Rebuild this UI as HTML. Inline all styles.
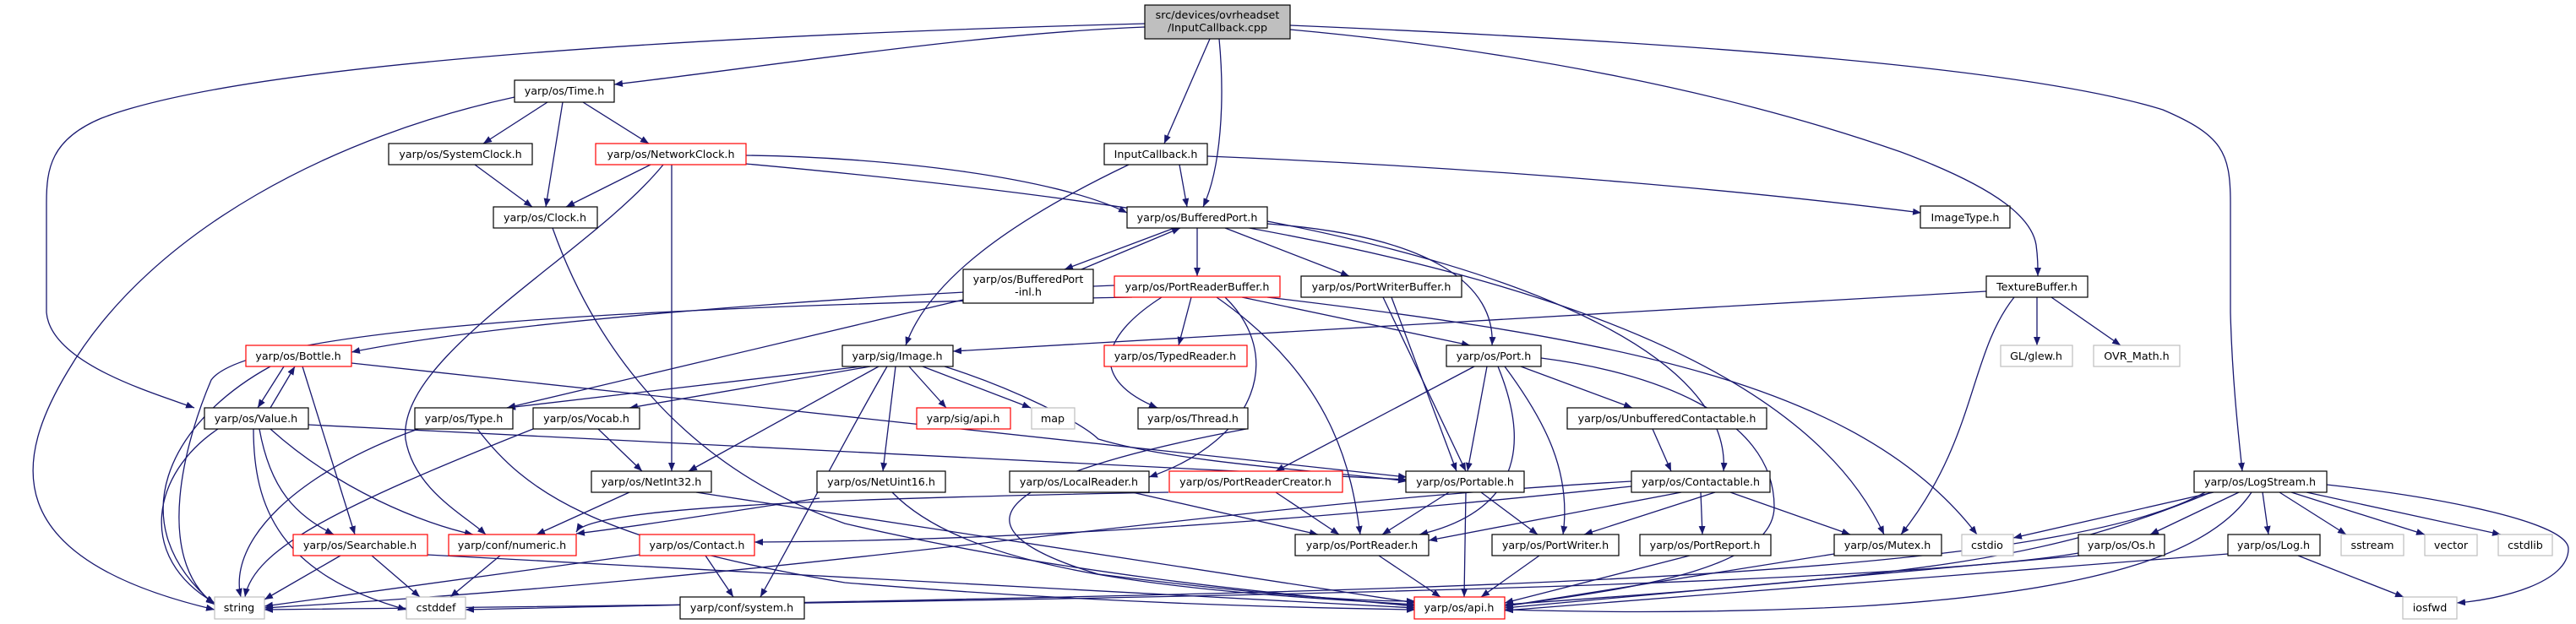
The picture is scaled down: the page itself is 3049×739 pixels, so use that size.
<!DOCTYPE html>
<html><head><meta charset="utf-8"><style>
html,body{margin:0;padding:0;background:#fff;width:3049px;height:739px;overflow:hidden}
svg text{font-family:"DejaVu Sans","Liberation Sans",sans-serif;font-size:12.7px;fill:#000;text-anchor:middle}
.e{fill:none;stroke:#191970;stroke-width:1.3;marker-end:url(#a)}
.n{fill:#fff;stroke:#000;stroke-width:1.2}
.r{fill:#fff;stroke:#ff0000;stroke-width:1.2}
.g{fill:#fff;stroke:#bfbfbf;stroke-width:1.2}
</style></head><body>
<svg width="3049" height="739" viewBox="0 0 3049 739" xmlns="http://www.w3.org/2000/svg">
<defs><marker id="a" viewBox="0 0 10 8" refX="10" refY="4" markerWidth="10" markerHeight="8" markerUnits="userSpaceOnUse" orient="auto"><path d="M0,0 L10,4 L0,8 z" fill="#191970"/></marker></defs>
<g>
<!-- main -->
<path class="e" d="M1355,32 C1150,40 900,80 727,100"/>
<path class="e" d="M1355,28 C900,40 300,70 120,140 C60,165 55,200 55,240 L55,370 C60,430 180,465 230,483"/>
<path class="e" d="M1432,46 L1378,170"/>
<path class="e" d="M1443,46 C1450,120 1445,200 1424,245"/>
<path class="e" d="M1527,35 C1800,60 2050,110 2250,180 C2370,225 2405,260 2410,290 C2412,305 2412,315 2412,327"/>
<path class="e" d="M1527,30 C2000,50 2400,80 2560,130 C2630,160 2640,180 2640,240 L2640,370 C2642,450 2650,520 2654,558"/>
<!-- Time.h -->
<path class="e" d="M609,115 C400,160 180,270 80,440 C20,540 -10,660 254,722"/>
<path class="e" d="M648,121 L572,170"/>
<path class="e" d="M666,121 L646,245"/>
<path class="e" d="M690,121 L768,170"/>
<path class="e" d="M562,195 L630,245"/>
<!-- NetworkClock -->
<path class="e" d="M770,195 L670,245"/>
<path class="e" d="M883,184 C1050,186 1250,210 1334,252"/>
<path class="e" d="M883,194 C1500,250 2100,350 2230,633"/>
<path class="e" d="M795,195 L795,558"/>
<path class="e" d="M785,195 C700,300 470,420 480,520 C490,580 550,610 575,633"/>
<path class="e" d="M654,270 C700,400 800,550 1000,620 C1300,690 1600,710 1675,718"/>
<!-- InputCallback -->
<path class="e" d="M1396,195 L1405,245"/>
<path class="e" d="M1336,195 C1200,260 1100,330 1072,409"/>
<path class="e" d="M1429,185 C1800,200 2100,230 2274,252"/>
<!-- BufferedPort -->
<path class="e" d="M1390,270 L1260,319"/>
<path class="e" d="M1280,319 L1397,270"/>
<path class="e" d="M1417,270 L1417,327"/>
<path class="e" d="M1450,270 L1597,327"/>
<path class="e" d="M1500,265 C1700,280 1770,340 1766,409"/>
<path class="e" d="M1500,262 C1800,320 2050,420 2040,558"/>
<path class="e" d="M1140,355 L600,483"/>
<!-- PortReaderBuffer -->
<path class="e" d="M1319,338 C1000,350 600,380 416,417"/>
<path class="e" d="M1340,352 C900,360 300,380 250,450 C220,520 180,660 254,716"/>
<path class="e" d="M1410,352 L1395,409"/>
<path class="e" d="M1375,352 C1300,400 1290,450 1370,483"/>
<path class="e" d="M1450,352 C1520,420 1490,520 1360,565"/>
<path class="e" d="M1440,352 C1580,450 1600,560 1610,633"/>
<path class="e" d="M1470,352 L1740,409"/>
<path class="e" d="M1500,352 C1900,400 2200,450 2340,633"/>
<path class="e" d="M1647,352 L1724,558"/>
<path class="e" d="M1637,352 L1735,558"/>
<!-- TextureBuffer -->
<path class="e" d="M2351,345 L1128,416"/>
<path class="e" d="M2411,352 L2411,409"/>
<path class="e" d="M2428,352 L2510,409"/>
<path class="e" d="M2384,352 C2330,420 2340,520 2250,633"/>
<!-- Image.h -->
<path class="e" d="M1020,434 L600,483"/>
<path class="e" d="M1030,434 L745,483"/>
<path class="e" d="M1040,434 L815,558"/>
<path class="e" d="M1076,434 L1120,483"/>
<path class="e" d="M1092,434 L1220,483"/>
<path class="e" d="M1060,434 L1045,558"/>
<path class="e" d="M1118,434 C1200,460 1280,500 1300,520 C1400,550 1600,560 1665,570"/>
<path class="e" d="M1050,434 C1000,520 960,600 900,707"/>
<!-- Port.h -->
<path class="e" d="M1745,434 L1510,558"/>
<path class="e" d="M1760,434 L1737,558"/>
<path class="e" d="M1773,434 C1800,500 1820,600 1680,633"/>
<path class="e" d="M1781,434 C1830,500 1860,560 1850,633"/>
<path class="e" d="M1800,434 L1932,483"/>
<path class="e" d="M1824,424 C1950,440 2100,490 2100,600 C2100,680 1900,700 1781,718"/>
<!-- Bottle / Value -->
<path class="e" d="M336,434 L305,483"/>
<path class="e" d="M320,483 L349,434"/>
<path class="e" d="M358,434 L420,633"/>
<path class="e" d="M320,434 C200,500 140,620 254,716"/>
<path class="e" d="M416,430 L1665,565"/>
<path class="e" d="M258,508 C180,560 160,660 254,714"/>
<path class="e" d="M300,508 C300,600 330,680 481,722"/>
<path class="e" d="M307,508 C320,580 350,610 395,633"/>
<path class="e" d="M320,508 C400,580 500,620 560,633"/>
<path class="e" d="M365,503 L1665,568"/>
<!-- Type / Vocab -->
<path class="e" d="M495,508 C350,560 270,640 285,707"/>
<path class="e" d="M565,508 C620,580 700,640 1000,690 C1300,715 1550,720 1675,722"/>
<path class="e" d="M631,508 C400,600 300,650 290,707"/>
<path class="e" d="M708,508 L760,558"/>
<!-- NetInt32 / NetUint16 -->
<path class="e" d="M745,583 L635,633"/>
<path class="e" d="M824,583 L1675,714"/>
<path class="e" d="M970,590 C900,600 780,620 682,632"/>
<path class="e" d="M1056,583 C1150,680 1400,700 1675,716"/>
<!-- Searchable numeric Contact -->
<path class="e" d="M403,658 L313,710"/>
<path class="e" d="M440,658 L497,707"/>
<path class="e" d="M506,657 L1675,720"/>
<path class="e" d="M592,658 L533,707"/>
<path class="e" d="M757,657 L313,718"/>
<path class="e" d="M835,658 L868,707"/>
<!-- Lower middle -->
<path class="e" d="M1340,583 L1560,633"/>
<path class="e" d="M1510,583 L1585,633"/>
<path class="e" d="M1383,583 C1000,590 700,600 682,630"/>
<path class="e" d="M1715,583 L1636,633"/>
<path class="e" d="M1735,583 L1733,707"/>
<path class="e" d="M1753,583 L1820,633"/>
<path class="e" d="M1632,658 L1705,707"/>
<path class="e" d="M1822,658 L1753,707"/>
<path class="e" d="M1475,508 C1200,560 1100,620 1300,680 C1500,705 1600,712 1675,712"/>
<path class="e" d="M1956,508 L1978,558"/>
<path class="e" d="M1931,576 C1700,600 1300,640 893,642"/>
<path class="e" d="M1990,583 L1691,640"/>
<path class="e" d="M2030,583 L1875,633"/>
<path class="e" d="M2013,583 L2015,633"/>
<path class="e" d="M2048,583 L2190,633"/>
<path class="e" d="M1931,570 C1400,600 1000,680 313,720"/>
<path class="e" d="M2000,658 L1781,714"/>
<path class="e" d="M2171,656 L1781,718"/>
<!-- LogStream -->
<path class="e" d="M2620,583 L2383,637"/>
<path class="e" d="M2650,583 L2545,633"/>
<path class="e" d="M2678,583 L2685,633"/>
<path class="e" d="M2698,583 L2777,633"/>
<path class="e" d="M2712,583 L2870,633"/>
<path class="e" d="M2730,583 L2960,633"/>
<path class="e" d="M2754,574 C2900,590 3040,620 3040,650 C3040,690 2960,710 2908,714"/>
<path class="e" d="M2665,583 C2620,650 2500,700 2200,718 C2000,728 1850,724 1781,722"/>
<path class="e" d="M2617,583 C2430,660 2300,680 1781,716"/>
<path class="e" d="M2610,583 C2400,700 1500,700 551,722"/>
<path class="e" d="M2460,655 C2200,700 1000,715 313,722"/>
<path class="e" d="M2462,658 L1781,720"/>
<path class="e" d="M2637,656 L1781,723"/>
<path class="e" d="M2720,658 L2845,707"/>
</g>
<!-- nodes -->
<rect x="1355" y="6" width="172" height="40" fill="#bfbfbf" stroke="#000" stroke-width="1.2"/>
<text x="1441" y="22">src/devices/ovrheadset</text><text x="1441" y="37">/InputCallback.cpp</text>
<rect class="n" x="609" y="95" width="118" height="26"/><text x="668" y="112">yarp/os/Time.h</text>
<rect class="n" x="460" y="170" width="170" height="25"/><text x="545" y="187">yarp/os/SystemClock.h</text>
<rect class="r" x="705" y="170" width="178" height="25"/><text x="794" y="187">yarp/os/NetworkClock.h</text>
<rect class="n" x="584" y="245" width="123" height="25"/><text x="645" y="262">yarp/os/Clock.h</text>
<rect class="n" x="1307" y="170" width="122" height="25"/><text x="1368" y="187">InputCallback.h</text>
<rect class="n" x="2273" y="244" width="106" height="26"/><text x="2326" y="262">ImageType.h</text>
<rect class="n" x="1334" y="245" width="166" height="25"/><text x="1417" y="262">yarp/os/BufferedPort.h</text>
<rect class="n" x="1140" y="319" width="154" height="40"/><text x="1217" y="335">yarp/os/BufferedPort</text><text x="1217" y="350">-inl.h</text>
<rect class="r" x="1319" y="327" width="196" height="25"/><text x="1417" y="344">yarp/os/PortReaderBuffer.h</text>
<rect class="n" x="1540" y="327" width="190" height="25"/><text x="1635" y="344">yarp/os/PortWriterBuffer.h</text>
<rect class="n" x="2351" y="327" width="120" height="25"/><text x="2411" y="344">TextureBuffer.h</text>
<rect class="r" x="291" y="409" width="125" height="25"/><text x="353" y="426">yarp/os/Bottle.h</text>
<rect class="n" x="997" y="409" width="131" height="25"/><text x="1062" y="426">yarp/sig/Image.h</text>
<rect class="r" x="1307" y="409" width="169" height="25"/><text x="1391" y="426">yarp/os/TypedReader.h</text>
<rect class="n" x="1712" y="409" width="112" height="25"/><text x="1768" y="426">yarp/os/Port.h</text>
<rect class="g" x="2368" y="409" width="85" height="25"/><text x="2410" y="426">GL/glew.h</text>
<rect class="g" x="2478" y="409" width="102" height="25"/><text x="2529" y="426">OVR_Math.h</text>
<rect class="n" x="242" y="483" width="123" height="25"/><text x="303" y="500">yarp/os/Value.h</text>
<rect class="n" x="491" y="483" width="116" height="25"/><text x="549" y="500">yarp/os/Type.h</text>
<rect class="n" x="631" y="483" width="126" height="25"/><text x="694" y="500">yarp/os/Vocab.h</text>
<rect class="r" x="1085" y="483" width="111" height="25"/><text x="1140" y="500">yarp/sig/api.h</text>
<rect class="g" x="1221" y="483" width="51" height="25"/><text x="1246" y="500">map</text>
<rect class="n" x="1347" y="483" width="130" height="25"/><text x="1412" y="500">yarp/os/Thread.h</text>
<rect class="n" x="1855" y="483" width="236" height="25"/><text x="1973" y="500">yarp/os/UnbufferedContactable.h</text>
<rect class="n" x="700" y="558" width="142" height="25"/><text x="771" y="575">yarp/os/NetInt32.h</text>
<rect class="n" x="967" y="558" width="152" height="25"/><text x="1043" y="575">yarp/os/NetUint16.h</text>
<rect class="n" x="1195" y="558" width="165" height="25"/><text x="1277" y="575">yarp/os/LocalReader.h</text>
<rect class="r" x="1384" y="558" width="205" height="25"/><text x="1486" y="575">yarp/os/PortReaderCreator.h</text>
<rect class="n" x="1664" y="558" width="140" height="25"/><text x="1734" y="575">yarp/os/Portable.h</text>
<rect class="n" x="1931" y="558" width="164" height="25"/><text x="2013" y="575">yarp/os/Contactable.h</text>
<rect class="n" x="2597" y="558" width="157" height="25"/><text x="2675" y="575">yarp/os/LogStream.h</text>
<rect class="r" x="347" y="633" width="159" height="25"/><text x="426" y="650">yarp/os/Searchable.h</text>
<rect class="r" x="531" y="633" width="151" height="25"/><text x="606" y="650">yarp/conf/numeric.h</text>
<rect class="r" x="757" y="633" width="136" height="25"/><text x="825" y="650">yarp/os/Contact.h</text>
<rect class="n" x="1533" y="633" width="158" height="25"/><text x="1612" y="650">yarp/os/PortReader.h</text>
<rect class="n" x="1766" y="633" width="150" height="25"/><text x="1841" y="650">yarp/os/PortWriter.h</text>
<rect class="n" x="1941" y="633" width="155" height="25"/><text x="2018" y="650">yarp/os/PortReport.h</text>
<rect class="n" x="2171" y="633" width="127" height="25"/><text x="2234" y="650">yarp/os/Mutex.h</text>
<rect class="g" x="2322" y="633" width="61" height="25"/><text x="2352" y="650">cstdio</text>
<rect class="n" x="2460" y="633" width="102" height="25"/><text x="2511" y="650">yarp/os/Os.h</text>
<rect class="n" x="2637" y="633" width="109" height="25"/><text x="2691" y="650">yarp/os/Log.h</text>
<rect class="g" x="2771" y="633" width="74" height="25"/><text x="2808" y="650">sstream</text>
<rect class="g" x="2870" y="633" width="62" height="25"/><text x="2901" y="650">vector</text>
<rect class="g" x="2957" y="633" width="64" height="25"/><text x="2989" y="650">cstdlib</text>
<rect class="g" x="254" y="707" width="59" height="26"/><text x="283" y="724">string</text>
<rect class="g" x="481" y="707" width="70" height="26"/><text x="516" y="724">cstddef</text>
<rect class="n" x="805" y="707" width="147" height="26"/><text x="878" y="724">yarp/conf/system.h</text>
<rect class="r" x="1674" y="707" width="107" height="26"/><text x="1727" y="724">yarp/os/api.h</text>
<rect class="g" x="2844" y="707" width="64" height="26"/><text x="2876" y="724">iosfwd</text>
</svg>
</body></html>
